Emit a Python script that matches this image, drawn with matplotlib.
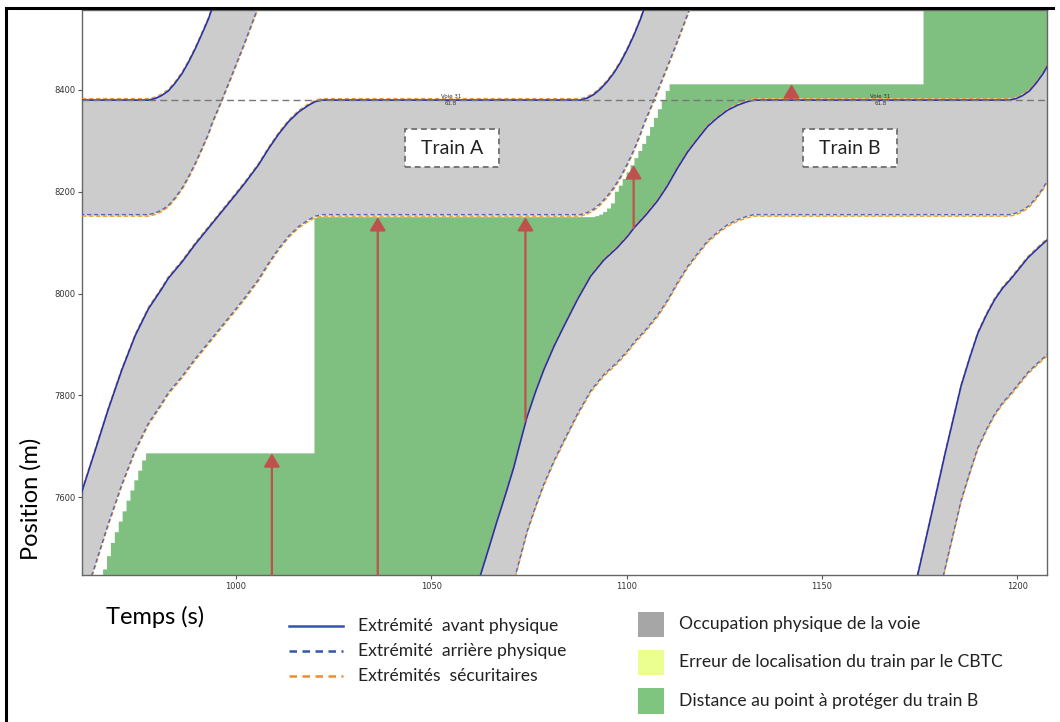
import numpy as np
import matplotlib
matplotlib.use('Agg')
import matplotlib.pyplot as plt
from matplotlib.patches import Rectangle
from matplotlib.lines import Line2D
from matplotlib.transforms import IdentityTransform, ScaledTranslation

# ---------------- data ----------------
x_limits = [960.6, 1207.6]
y_limits = [7447, 8557]
x_ticks = [1000, 1050, 1100, 1150, 1200]
y_ticks = [7600, 7800, 8000, 8200, 8400]

train_length = 225      # m (front -> rear)
loc_error = 3           # m (CBTC localisation error)

# front positions of the successive trains (s, m)
train0_t = [950.0, 977.6, 979.3, 981.0, 982.7, 984.4, 986.2, 987.9, 989.6, 991.3, 993.0,
            993.8, 996.0, 999.0, 1002.0, 1005.4, 1008.0]
train0_front = [8380, 8380, 8383, 8389, 8398, 8413, 8432, 8455, 8481, 8510, 8540,
                8558, 8598, 8655, 8713, 8782, 8835]

trainA_t = [955.0, 960.5, 963.9, 967.3, 970.8, 974.2, 977.6, 981.0, 982.7, 986.2, 989.6,
            993.0, 996.4, 999.8, 1002.4, 1005.8, 1008.4, 1010.9, 1013.5, 1016.1, 1018.6,
            1020.3, 1022.0, 1088.2, 1089.9, 1091.6, 1093.3, 1095.0, 1096.8, 1098.5,
            1100.2, 1101.9, 1103.6, 1104.4, 1106.6, 1109.6, 1112.6, 1116.0, 1118.6]
trainA_front = [7465, 7609, 7690, 7772, 7850, 7917, 7970, 8009, 8030, 8062, 8097,
                8129, 8161, 8193, 8218, 8253, 8285, 8313, 8338, 8357, 8370,
                8377, 8380, 8380, 8384, 8391, 8402, 8416, 8434, 8455,
                8480, 8508, 8540, 8558, 8598, 8655, 8713, 8782, 8835]

trainB_t = [1057.0, 1062.6, 1064.7, 1066.8, 1069.0, 1071.1, 1072.8, 1074.5, 1076.7, 1078.8,
            1081.4, 1083.9, 1087.4, 1090.8, 1094.2, 1097.6, 1100.2, 1101.9, 1104.9, 1107.9,
            1110.4, 1113.0, 1115.6, 1118.1, 1120.7, 1123.2, 1125.8, 1128.4, 1130.9, 1132.6,
            1198.0, 1199.7, 1201.4, 1203.1, 1204.8, 1206.6, 1208.3, 1212.0]
trainB_front = [7307, 7447, 7499, 7552, 7605, 7658, 7708, 7757, 7807, 7850,
                7896, 7935, 7988, 8034, 8066, 8090, 8112, 8129, 8154, 8182,
                8211, 8246, 8278, 8303, 8328, 8345, 8360, 8370, 8377, 8380,
                8380, 8383, 8389, 8398, 8413, 8432, 8455, 8520]

trainC_t = [1168.0, 1174.5, 1178.0, 1181.5, 1185.6, 1187.8, 1189.9, 1192.1, 1194.2, 1196.3,
            1198.5, 1200.6, 1202.7, 1205.3, 1207.9, 1212.0]
trainC_front = [7260, 7447, 7565, 7685, 7818, 7873, 7922, 7958, 7988, 8011,
                8030, 8050, 8070, 8089, 8107, 8135]

# point to protect for train B (step function, value held until next time)
protect_t = [965, 966, 967, 968, 969, 970, 971, 972, 973, 974, 975, 976, 977,
             1020.1, 1090, 1091, 1092, 1093, 1094, 1095, 1096, 1097, 1098, 1099,
             1100, 1101, 1102, 1103, 1104, 1105, 1106, 1107, 1108, 1109, 1110,
             1111, 1176, 1212]
protect_pos = [7431, 7458, 7484, 7510, 7531, 7552, 7572, 7593, 7613, 7633, 7652, 7672, 7686,
               8150, 8150, 8150, 8152, 8155, 8160, 8167, 8177, 8200, 8212, 8225,
               8238, 8252, 8266, 8280, 8294, 8310, 8327, 8345, 8362, 8380, 8398,
               8411, 8700, 8700]

# distance arrows
arrow_t = [1009.2, 1036.3, 1074.1, 1101.8, 1142.2]
arrow_from = [7447, 7447, 7750, 8129, 8383]
arrow_to = [7686, 8150, 8150, 8252, 8411]

track_pos = 8380
track_label_t = [1055.0, 1165.0]
train_names = ['Train A', 'Train B']
train_label_t = [1055.4, 1157.2]
train_label_pos = 8285

legend_lines = ['Extrémité  avant physique', 'Extrémité  arrière physique', 'Extrémités  sécuritaires']
legend_patches = ['Occupation physique de la voie', 'Erreur de localisation du train par le CBTC',
                  'Distance au point à protéger du train B']

# ---------------- style ----------------
GRAY = '#cccccc'
GREEN = '#7fbf7f'
YELLOW = '#f4f49a'
BLUE = '#2233aa'
ORANGE = '#f0983a'
RED = '#c0504d'
FONT = ['Lato', 'DejaVu Sans']

fig = plt.figure(figsize=(10.6, 7.22), dpi=100)
W, H = 1060, 722
ax = fig.add_axes([82 / W, 1 - 575 / H, (1047 - 82) / W, (575 - 10) / H])

# green zone: upper = protection point (steps), lower = train B safe front
gx, gy = [protect_t[0]], [7250]
for i in range(len(protect_t) - 1):
    gx += [protect_t[i], protect_t[i + 1]]
    gy += [protect_pos[i], protect_pos[i]]
bt = np.array(trainB_t)
bf = np.array(trainB_front) + loc_error
gx += list(bt[::-1])
gy += list(bf[::-1])
gx += [protect_t[0]]
gy += [bf[0]]
ax.fill(gx, gy, color=GREEN, lw=0, zorder=1)

for tt, ff in [(train0_t, train0_front), (trainA_t, trainA_front),
               (trainB_t, trainB_front), (trainC_t, trainC_front)]:
    tt = np.array(tt, dtype=float)
    ff = np.array(ff, dtype=float)
    rr = ff - train_length
    ax.fill_between(tt, rr, ff, color=GRAY, lw=0, zorder=2)
    ax.fill_between(tt, ff, ff + loc_error, color=YELLOW, lw=0, zorder=2.5)
    ax.fill_between(tt, rr - loc_error, rr, color=YELLOW, lw=0, zorder=2.5)
    ax.plot(tt, ff + loc_error, ls=(0, (3, 2)), color=ORANGE, lw=1.0, zorder=3)
    ax.plot(tt, rr - loc_error, ls=(0, (3, 2)), color=ORANGE, lw=1.0, zorder=3)
    ax.plot(tt, rr, ls=(1.5, (3, 2)), color='#5566bb', lw=1.0, zorder=3.2)
    ax.plot(tt, ff, '-', color=BLUE, lw=1.2, zorder=3.4)

ax.axhline(track_pos, color='#777777', ls=(0, (5, 3)), lw=1.0, zorder=3.6)
for tl in track_label_t:
    ax.text(tl, track_pos + 2, 'Voie 31', fontsize=4, ha='center', va='bottom', color='#333', zorder=6)
    ax.text(tl, track_pos - 2, '61.8', fontsize=4, ha='center', va='top', color='#333', zorder=6)

for name, tl in zip(train_names, train_label_t):
    anchor = IdentityTransform() + ScaledTranslation(tl, train_label_pos, ax.transData)
    ax.add_patch(Rectangle((-47, -19), 94, 38, transform=anchor, fc='white', ec='#777777',
                           ls=(0, (3, 2)), lw=1.4, zorder=7, clip_on=False))
    ax.text(tl, train_label_pos, name, fontsize=14, family=FONT, ha='center', va='center',
            color='#222', zorder=7.5)

for ta, fa, to in zip(arrow_t, arrow_from, arrow_to):
    ax.annotate('', xy=(ta, to), xytext=(ta, fa),
                arrowprops=dict(arrowstyle='-|>,head_length=0.5,head_width=0.3', color=RED, lw=1.6,
                                shrinkA=0, shrinkB=0, mutation_scale=16),
                zorder=8)

ax.set_xlim(x_limits)
ax.set_ylim(y_limits)
ax.set_xticks(x_ticks)
ax.set_yticks(y_ticks)
ax.tick_params(labelsize=6, length=3, width=0.8, color='#555', labelcolor='#333', pad=2)
for s in ax.spines.values():
    s.set_color('#666666')
    s.set_linewidth(1.0)

# axis titles
fig.text(155 / W, 1 - 617 / H, 'Temps (s)', fontsize=17, family=FONT, ha='center', va='center')
fig.text(31 / W, 1 - 499 / H, 'Position (m)', fontsize=17, family=FONT, ha='center', va='center',
         rotation=90)

# legend (lines)
line_rows = [626, 651, 676]
line_styles = [dict(color='#3355aa', ls='-'), dict(color='#3355aa', ls=(0, (3, 2.2))),
               dict(color='#f08a30', ls=(0, (3, 2.2)))]
for lab, yy, st in zip(legend_lines, line_rows, line_styles):
    fig.add_artist(Line2D([289 / W, 343 / W], [1 - yy / H, 1 - yy / H], lw=1.8, **st))
    fig.text(358 / W, 1 - yy / H, lab, fontsize=12.6, family=FONT, ha='left', va='center', color='#222')

patch_rows = [(612, 637), (650, 675), (688, 714)]
patch_cols = ['#a6a6a6', '#eaff8f', '#7fc47f']
for lab, (y0, y1), c in zip(legend_patches, patch_rows, patch_cols):
    fig.add_artist(Rectangle((638 / W, 1 - y1 / H), 26 / W, (y1 - y0) / H, fc=c, ec='none'))
    fig.text(679 / W, 1 - (y0 + y1) / 2 / H, lab, fontsize=12.6, family=FONT, ha='left', va='center',
             color='#222')

# frame around the figure
fig.add_artist(Line2D([6 / W, 6 / W], [0, 1 - 8 / H], color='black', lw=2.2))
fig.add_artist(Line2D([6 / W, 1053 / W], [1 - 8 / H, 1 - 8 / H], color='black', lw=2.2))

fig.savefig('out.png', dpi=100)
